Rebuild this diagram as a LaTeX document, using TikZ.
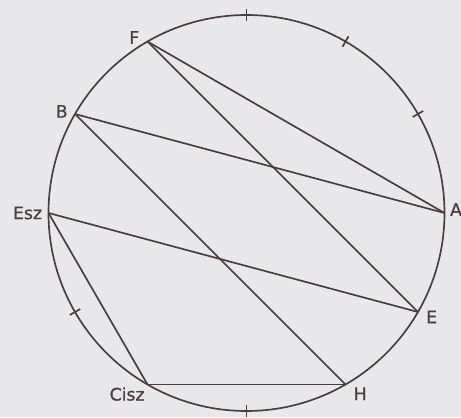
\documentclass[tikz,border=0pt]{standalone}
\usepackage{fontspec}
\setmainfont{DejaVu Sans}
\newfontfamily\lblfont[FakeBold=0.8]{DejaVu Sans}
\definecolor{paper}{RGB}{232,231,233}
\definecolor{ink}{RGB}{72,62,62}
\tikzset{
  lbl/.style={inner sep=1.5pt,text=ink,font=\lblfont\fontsize{9.8}{11}\selectfont},
  chord/.style={draw=ink,line width=0.95pt}
}
\begin{document}
\begin{tikzpicture}[x=0.02cm,y=0.02cm]
\fill[paper] (-246.5,-204) rectangle (214.5,213); %Background (paper)
\useasboundingbox (-246.5,-204) rectangle (214.5,213);
\draw[ink,line width=0.95pt] (0,0) circle (198); %Circle
\foreach \name/\ang in {A/0,E/-30,H/-60,Cisz/-120,Esz/180,B/150,F/120}
  \coordinate (\name) at (\ang:198); %Named points
\foreach \ang in {90,60,30,210,270}
  \draw[ink,line width=0.95pt] (\ang:192) -- (\ang:204); %Unnamed ticks
\node[lbl,left=3pt,yshift=2.3pt] (lF) at (F) {F};
\node[lbl,left=2.5pt,yshift=1.5pt] (lB) at (B) {B};
\node[lbl,left=2pt] (lEsz) at (Esz) {Esz};
\node[lbl,anchor=north east] (lCisz) at (Cisz) {Cisz};
\node[lbl,anchor=north west,xshift=3pt] (lH) at (H) {H};
\node[lbl,anchor=west,xshift=3pt,yshift=-2.8pt] (lE) at (E) {E};
\node[lbl,anchor=west,xshift=1.5pt,yshift=2pt] (lA) at (A) {A};
\draw[chord] (F) -- (A); %Chords
\draw[chord] (F) -- (E);
\draw[chord] (B) -- (A);
\draw[chord] (B) -- (H);
\draw[chord] (Esz) -- (E);
\draw[chord] (Esz) -- (Cisz);
\draw[chord] (Cisz) -- (H);
\end{tikzpicture}
\end{document}
